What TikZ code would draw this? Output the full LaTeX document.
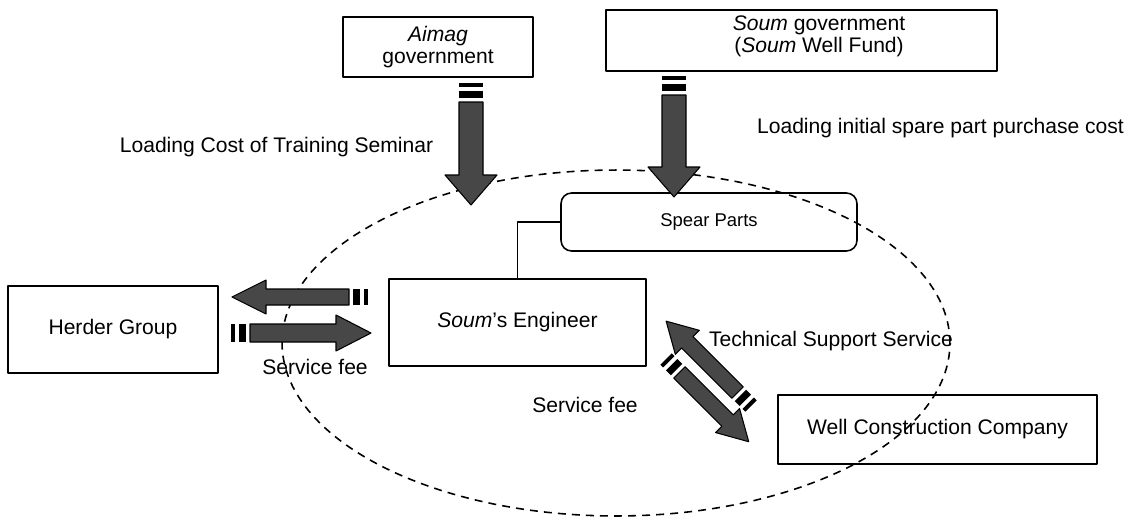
\documentclass[tikz,border=0pt]{standalone}
\usepackage{fontspec}
\setmainfont{Liberation Sans}
% striped flow arrow: tail, angle, length, half body, half head, head length
\newcommand{\flowarrow}[6]{%
  \begin{scope}[shift={(#1)}, rotate=#2]
    \fill (0,-#4) rectangle (4,#4);
    \fill (8,-#4) rectangle (15,#4);
    \filldraw[flow] (19,-#4) -- ({#3-#6},-#4) -- ({#3-#6},-#5) -- (#3,0)
      -- ({#3-#6},#5) -- ({#3-#6},#4) -- (19,#4) -- cycle;
  \end{scope}}
\begin{document}
\begin{tikzpicture}[x=0.02cm, y=-0.02cm, line join=round,
    box/.style={draw, line width=0.9pt, inner sep=2pt, align=center},
    flow/.style={fill=black!72, draw=black, line width=0.6pt},
    conn/.style={line width=0.8pt},
    every node/.style={font=\fontsize{12}{12.5}\selectfont}]
  \useasboundingbox (0,0) rectangle (1132,521);
  \draw[line width=0.9pt, dash pattern=on 4.5pt off 3.5pt]
    (616,343) ellipse [x radius=6.68cm, y radius=3.46cm];
  % boxes
  \node[box, minimum width=3.8cm, minimum height=1.2cm] (aimag) at (438,47) {\textit{Aimag}\\government};
  \node[box, minimum width=7.82cm, minimum height=1.22cm] (soumgov) at (801.5,40.5) {};
  \node[align=center] (soumtxt) at (819,36) {\textit{Soum} government\\(\textit{Soum} Well Fund)};
  \node[box, rounded corners=6pt, minimum width=5.92cm, minimum height=1.16cm,
    font=\fontsize{10.5}{12}\selectfont] (spare) at (709,222) {Spear Parts};
  \node[box, minimum width=5.14cm, minimum height=1.74cm] (eng) at (517.5,322.5) {\textit{Soum}'s Engineer};
  \node[box, minimum width=4.2cm, minimum height=1.74cm] (herder) at (113,329.5) {Herder Group};
  \node[box, minimum width=6.38cm, minimum height=1.38cm] (well) at (937.5,429.5) {Well Construction Company};
  \draw[conn] (spare.west) -| (eng.north);
  % labels
  \node (trainlbl) at (276.5,147) {Loading Cost of Training Seminar};
  \node (sparelbl) at (940.5,128) {Loading initial spare part purchase cost};
  \node (feeleft) at (315,367) {Service fee};
  \node (feemid) at (585,405) {Service fee};
  \node (techlbl) at (831,341) {Technical Support Service};
  % flow arrows
  \coordinate (aimagtail) at (471,83);
  \coordinate (soumtail) at (674,76);
  \coordinate (toherder) at (368,297);
  \coordinate (toeng) at (231,333);
  \coordinate (techtail) at (751,406);
  \coordinate (feetail) at (666,359);
  \flowarrow{aimagtail}{-90}{122}{12}{26}{30}
  \flowarrow{soumtail}{-90}{121}{12}{26}{30}
  \flowarrow{toherder}{180}{136}{8}{17}{34}
  \flowarrow{toeng}{0}{140}{9}{18}{35}
  \flowarrow{techtail}{135}{120}{8}{17}{30}
  \flowarrow{feetail}{-45}{117}{8}{17}{30}
\end{tikzpicture}
\end{document}
